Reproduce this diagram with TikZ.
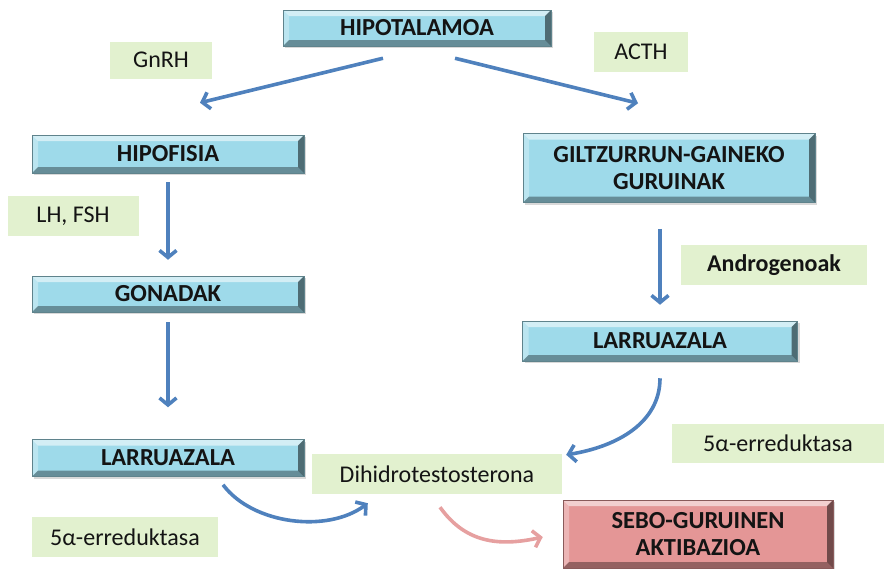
\documentclass[tikz,border=0pt]{standalone}
\usepackage{fontspec}
\setmainfont{Carlito}
\usetikzlibrary{arrows.meta,shadows,calc}

\definecolor{boxblue}{RGB}{158,218,234}
\definecolor{boxpink}{RGB}{228,150,150}
\definecolor{tagreen}{RGB}{226,241,207}
\definecolor{arrblue}{RGB}{79,129,189}
\definecolor{arrpink}{RGB}{230,160,160}
\definecolor{txt}{RGB}{20,20,20}

\tikzset{
  bevel/.style={path picture={
    \coordinate (bvsw) at (path picture bounding box.south west);
    \coordinate (bvne) at (path picture bounding box.north east);
    % top edge
    \fill[white,opacity=0.55] (bvsw|-bvne) -- (bvne) -- ($(bvne)+(-6pt,-6pt)$) -- ($(bvsw|-bvne)+(6pt,-6pt)$) -- cycle;
    % left edge
    \fill[white,opacity=0.3] (bvsw|-bvne) -- ($(bvsw|-bvne)+(6pt,-6pt)$) -- ($(bvsw)+(6pt,6pt)$) -- (bvsw) -- cycle;
    % bottom edge
    \fill[black,opacity=0.35] (bvsw) -- ($(bvsw)+(6pt,6pt)$) -- ($(bvne|-bvsw)+(-6pt,6pt)$) -- (bvne|-bvsw) -- cycle;
    % right edge
    \fill[black,opacity=0.5] (bvne) -- (bvne|-bvsw) -- ($(bvne|-bvsw)+(-6pt,6pt)$) -- ($(bvne)+(-6pt,-6pt)$) -- cycle;
  }},
  organ/.style={bevel, fill=boxblue, draw=boxblue!60!black, line width=0.5pt,
    font=\fontsize{24.5}{26.5}\selectfont\bfseries, text=txt, align=center,
    inner sep=0pt, drop shadow={opacity=0.3, shadow xshift=2pt, shadow yshift=-2pt}},
  result/.style={organ, fill=boxpink, draw=boxpink!60!black},
  hormone/.style={fill=tagreen, font=\fontsize{24}{26}\selectfont, text=txt,
    inner sep=0pt, align=center},
  arr/.style={draw=arrblue, line width=3.6pt,
    -{Straight Barb[length=7pt,width=17pt]}},
  arrp/.style={arr, draw=arrpink}
}

\begin{document}
\begin{tikzpicture}[x=1pt,y=-1pt]
\useasboundingbox (0,0) rectangle (885,568);

% glands and organs
\node[organ, minimum width=268pt, minimum height=36pt] (hipot) at (417,28) {HIPOTALAMOA};
\node[organ, minimum width=272pt, minimum height=38pt] (hipof) at (168,154) {HIPOFISIA};
\node[organ, minimum width=292pt, minimum height=69pt] (giltz) at (669,168) {GILTZURRUN-GAINEKO\\GURUINAK};
\node[organ, minimum width=272pt, minimum height=36pt] (gonad) at (168,294) {GONADAK};
\node[organ, minimum width=275pt, minimum height=40pt] (larrR) at (660,341) {LARRUAZALA};
\node[organ, minimum width=272pt, minimum height=37pt] (larrL) at (168,458) {LARRUAZALA};
\node[result, minimum width=270pt, minimum height=68pt] (sebo) at (698,534) {SEBO-GURUINEN\\AKTIBAZIOA};

% hormones and enzymes
\node[hormone, minimum width=102pt, minimum height=37pt] (gnrh) at (161,60) {GnRH};
\node[hormone, minimum width=94pt, minimum height=40pt] (acth) at (641,52) {ACTH};
\node[hormone, minimum width=131pt, minimum height=40pt] (lhfsh) at (73,216) {LH, FSH};
\node[hormone, minimum width=186pt, minimum height=40pt, font=\fontsize{24}{26}\selectfont\bfseries] (andro) at (774,265) {Androgenoak};
\node[hormone, minimum width=212pt, minimum height=39pt] (redR) at (778,443) {5α-erreduktasa};
\node[hormone, minimum width=250pt, minimum height=40pt] (dht) at (437,474) {Dihidrotestosterona};
\node[hormone, minimum width=186pt, minimum height=40pt] (redL) at (125,537) {5α-erreduktasa};

% hormonal pathway
\draw[arr] ([xshift=-34pt,yshift=-12pt]hipot.south) -- ([xshift=32pt,yshift=32pt]hipof.north);
\draw[arr] ([xshift=38pt,yshift=-12pt]hipot.south) -- ([xshift=-31pt,yshift=30pt]giltz.north);
\draw[arr] ([yshift=-9pt]hipof.south) -- ([yshift=16pt]gonad.north);
\draw[arr] ([yshift=-10pt]gonad.south) -- ([yshift=32pt]larrL.north);
\draw[arr] ([xshift=-9pt,yshift=-26pt]giltz.south) -- ([yshift=16pt]larrR.north);
\draw[arr] ([yshift=-17pt]larrR.south) .. controls +(0,45) and +(50,-8) .. ([xshift=4pt,yshift=-1pt]dht.north east);
\draw[arr] ([xshift=55pt,yshift=-8pt]larrL.south) .. controls +(30,40) and +(-40,30) .. ([xshift=56pt,yshift=-9pt]dht.south west);
\draw[arrp] ([xshift=3pt,yshift=-13pt]dht.south) .. controls +(25,35) and +(-45,10) .. ([xshift=-20pt,yshift=-3pt]sebo.west);
\end{tikzpicture}
\end{document}
